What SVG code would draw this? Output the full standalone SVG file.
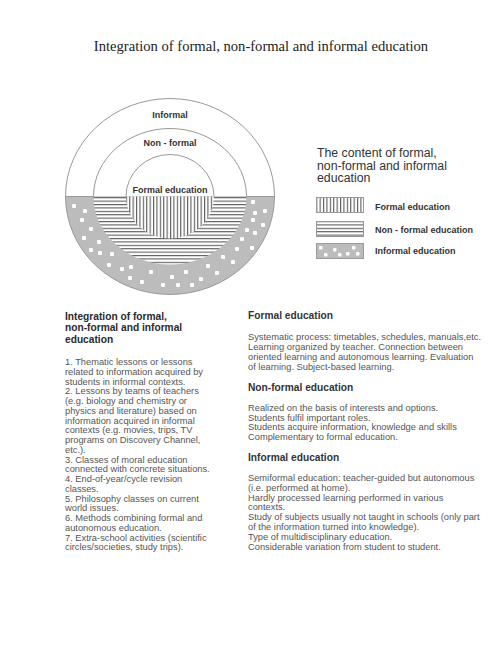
<svg xmlns="http://www.w3.org/2000/svg" width="503" height="671" viewBox="0 0 503 671">
<defs>
<pattern id="hl" width="6" height="3.4" patternUnits="userSpaceOnUse"><rect width="6" height="3.4" fill="#fff"/><rect width="6" height="1.1" fill="#5a5a5a"/></pattern>
<pattern id="vl" width="3.4" height="6" patternUnits="userSpaceOnUse"><rect width="3.4" height="6" fill="#fff"/><rect width="1.1" height="6" fill="#5a5a5a"/></pattern>
<style>
.t{font-family:"Liberation Serif","Times New Roman",serif;font-size:14.6px;fill:#222}
.lbl{font-family:"Liberation Sans",Arial,sans-serif;font-weight:bold;font-size:9px;fill:#333}
.lt{font-family:"Liberation Sans",Arial,sans-serif;font-size:12.3px;fill:#333}
.h{font-family:"Liberation Sans",Arial,sans-serif;font-weight:bold;font-size:10.2px;fill:#333}
.hl{font-family:"Liberation Sans",Arial,sans-serif;font-weight:bold;font-size:10.2px;fill:#2a2a2a}
.b{font-family:"Liberation Sans",Arial,sans-serif;font-size:9.3px;fill:#555}
.ring{fill:none;stroke:#999;stroke-width:1}
.dot{fill:#fff}
.box{stroke:#999;stroke-width:1}
</style>
</defs>
<rect width="503" height="671" fill="#fff"/>
<text class="t" x="261" y="51" text-anchor="middle">Integration of formal, non-formal and informal education</text>

<g id="circle-diagram">
<g id="informal">
<path d="M65.5 196.5 A104.5 98 0 0 0 274.5 196.5 Z" fill="#bcbcbc" stroke="#999"/>
<path class="ring" d="M65.5 196.5 A104.5 98 0 0 1 274.5 196.5"/>
<g class="dot">
<rect x="72" y="204" width="4" height="4" rx="1"/>
<rect x="83" y="209" width="4" height="4" rx="1"/>
<rect x="80" y="218" width="4" height="4" rx="1"/>
<rect x="89" y="227" width="4" height="4" rx="1"/>
<rect x="82" y="236" width="4" height="4" rx="1"/>
<rect x="97" y="240" width="4" height="4" rx="1"/>
<rect x="89" y="248" width="4" height="4" rx="1"/>
<rect x="98" y="251" width="4" height="4" rx="1"/>
<rect x="110" y="252" width="4" height="4" rx="1"/>
<rect x="107" y="263" width="4" height="4" rx="1"/>
<rect x="120" y="267" width="4" height="4" rx="1"/>
<rect x="129" y="265" width="4" height="4" rx="1"/>
<rect x="128" y="276" width="4" height="4" rx="1"/>
<rect x="140" y="280" width="4" height="4" rx="1"/>
<rect x="149" y="270" width="4" height="4" rx="1"/>
<rect x="161" y="283" width="4" height="4" rx="1"/>
<rect x="170" y="275" width="4" height="4" rx="1"/>
<rect x="176" y="283" width="4" height="4" rx="1"/>
<rect x="184" y="270" width="4" height="4" rx="1"/>
<rect x="190" y="283" width="4" height="4" rx="1"/>
<rect x="199" y="277" width="4" height="4" rx="1"/>
<rect x="206" y="264" width="4" height="4" rx="1"/>
<rect x="215" y="271" width="4" height="4" rx="1"/>
<rect x="221" y="255" width="4" height="4" rx="1"/>
<rect x="231" y="260" width="4" height="4" rx="1"/>
<rect x="235" y="247" width="4" height="4" rx="1"/>
<rect x="240" y="237" width="4" height="4" rx="1"/>
<rect x="250" y="246" width="4" height="4" rx="1"/>
<rect x="245" y="228" width="4" height="4" rx="1"/>
<rect x="253" y="231" width="4" height="4" rx="1"/>
<rect x="251" y="218" width="4" height="4" rx="1"/>
<rect x="261" y="223" width="4" height="4" rx="1"/>
<rect x="253" y="211" width="4" height="4" rx="1"/>
<rect x="263" y="209" width="4" height="4" rx="1"/>
<rect x="251" y="200" width="4" height="4" rx="1"/>
</g>
<text class="lbl" x="170" y="118" text-anchor="middle">Informal</text>
</g>
<g id="non-formal">
<path d="M93.5 196.5 A76.5 68 0 0 0 246.5 196.5 Z" fill="url(#hl)"/>
<path class="ring" d="M93.5 196.5 A76.5 68 0 0 1 246.5 196.5"/>
<text class="lbl" x="170" y="146" text-anchor="middle">Non - formal</text>
</g>
<g id="formal">
<path d="M126 196.5 A44 42 0 0 0 214 196.5 Z" fill="url(#vl)"/>
<path class="ring" d="M126 196.5 A44 42 0 0 1 214 196.5"/>
<text class="lbl" x="170" y="193" text-anchor="middle">Formal education</text>
</g>
</g>

<g id="legend">
<text class="lt" x="317" y="157">The content of formal,</text>
<text class="lt" x="317" y="169.5">non-formal and informal</text>
<text class="lt" x="317" y="182">education</text>
<g id="legend-formal">
<rect class="box" x="316.5" y="197.5" width="47" height="15" fill="url(#vl)"/>
<text class="lbl" x="375" y="210">Formal education</text>
</g>
<g id="legend-nonformal">
<rect class="box" x="316.5" y="221.5" width="47" height="15" fill="url(#hl)"/>
<text class="lbl" x="375" y="233">Non - formal education</text>
</g>
<g id="legend-informal">
<rect class="box" x="316.5" y="243.5" width="47" height="15" fill="#bcbcbc"/>
<g class="dot">
<rect x="319" y="246" width="3.5" height="3.5" rx="1"/>
<rect x="333" y="248" width="3.5" height="3.5" rx="1"/>
<rect x="352" y="246" width="3.5" height="3.5" rx="1"/>
<rect x="324" y="253" width="3.5" height="3.5" rx="1"/>
<rect x="338" y="253" width="3.5" height="3.5" rx="1"/>
<rect x="346" y="252" width="3.5" height="3.5" rx="1"/>
<rect x="356" y="252" width="3.5" height="3.5" rx="1"/>
</g>
<text class="lbl" x="375" y="254">Informal education</text>
</g>
</g>

<g id="integration-list">
<text class="hl" x="65" y="319.5">Integration of formal,</text>
<text class="hl" x="65" y="331.3">non-formal and informal</text>
<text class="hl" x="65" y="343.1">education</text>
<text class="b" x="65" y="365">1. Thematic lessons or lessons</text>
<text class="b" x="65" y="374.75">related to information acquired by</text>
<text class="b" x="65" y="384.5">students in informal contexts.</text>
<text class="b" x="65" y="394.25">2. Lessons by teams of teachers</text>
<text class="b" x="65" y="404">(e.g. biology and chemistry or</text>
<text class="b" x="65" y="413.75">physics and literature) based on</text>
<text class="b" x="65" y="423.5">information acquired in informal</text>
<text class="b" x="65" y="433.25">contexts (e.g. movies, trips, TV</text>
<text class="b" x="65" y="443">programs on Discovery Channel,</text>
<text class="b" x="65" y="452.75">etc.).</text>
<text class="b" x="65" y="462.5">3. Classes of moral education</text>
<text class="b" x="65" y="472.25">connected with concrete situations.</text>
<text class="b" x="65" y="482">4. End-of-year/cycle revision</text>
<text class="b" x="65" y="491.75">classes.</text>
<text class="b" x="65" y="501.5">5. Philosophy classes on current</text>
<text class="b" x="65" y="511.25">world issues.</text>
<text class="b" x="65" y="521">6. Methods combining formal and</text>
<text class="b" x="65" y="530.75">autonomous education.</text>
<text class="b" x="65" y="540.5">7. Extra-school activities (scientific</text>
<text class="b" x="65" y="550.25">circles/societies, study trips).</text>
</g>

<g id="formal-text">
<text class="h" x="248" y="319">Formal education</text>
<text class="b" x="248" y="339.5">Systematic process: timetables, schedules, manuals,etc.</text>
<text class="b" x="248" y="349.5">Learning organized by teacher. Connection between</text>
<text class="b" x="248" y="359.5">oriented learning and autonomous learning. Evaluation</text>
<text class="b" x="248" y="369.5">of learning. Subject-based learning.</text>
</g>
<g id="nonformal-text">
<text class="h" x="248" y="391">Non-formal education</text>
<text class="b" x="248" y="411">Realized on the basis of interests and options.</text>
<text class="b" x="248" y="420.7">Students fulfil important roles.</text>
<text class="b" x="248" y="430.4">Students acquire information, knowledge and skills</text>
<text class="b" x="248" y="440.1">Complementary to formal education.</text>
</g>
<g id="informal-text">
<text class="h" x="248" y="461">Informal education</text>
<text class="b" x="248" y="481">Semiformal education: teacher-guided but autonomous</text>
<text class="b" x="248" y="490.8">(i.e. performed at home).</text>
<text class="b" x="248" y="500.6">Hardly processed learning performed in various</text>
<text class="b" x="248" y="510.4">contexts.</text>
<text class="b" x="248" y="520.2">Study of subjects usually not taught in schools (only part</text>
<text class="b" x="248" y="530">of the information turned into knowledge).</text>
<text class="b" x="248" y="539.8">Type of multidisciplinary education.</text>
<text class="b" x="248" y="549.6">Considerable variation from student to student.</text>
</g>
</svg>
